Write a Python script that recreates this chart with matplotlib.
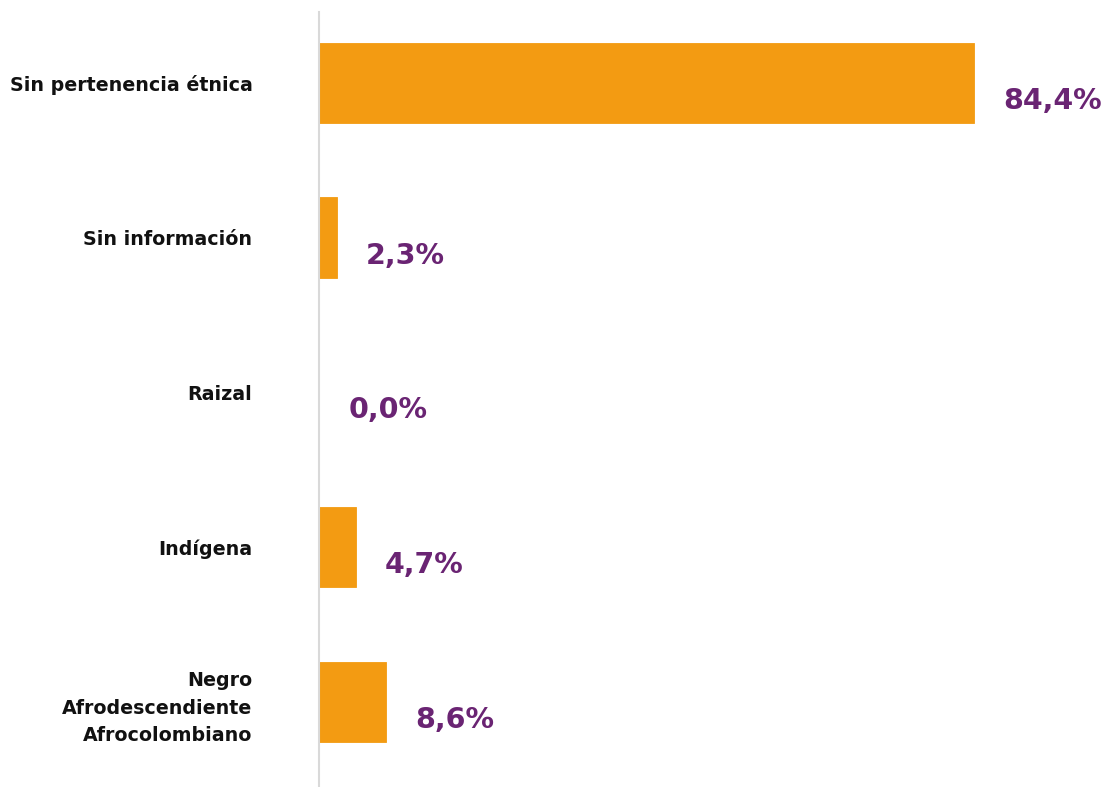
import matplotlib
matplotlib.use("Agg")
import matplotlib.pyplot as plt

# categories bottom -> top
categories = ["Negro\nAfrodescendiente\nAfrocolombiano", "Indígena", "Raizal",
              "Sin información", "Sin pertenencia étnica"]
values = [8.6, 4.7, 0.0, 2.3, 84.4]
value_labels = ["8,6%", "4,7%", "0,0%", "2,3%", "84,4%"]

bar_color = "#F39B12"
label_color = "#6A2473"

plt.rcParams['font.family'] = ['DejaVu Sans']

fig = plt.figure(figsize=(11.04, 7.87), dpi=100)
ax = fig.add_axes([0.289, 0.0, 0.711, 0.985])

pos = list(range(len(categories)))
ax.barh(pos, values, height=0.52, color=bar_color, edgecolor=bar_color, linewidth=0.6)

for p, v, lab in zip(pos, values, value_labels):
    ax.annotate(lab, xy=(v, p), xytext=(21, -13), textcoords="offset points",
                ha="left", va="center", fontsize=20.5, fontweight="bold",
                color=label_color)

ax.set_xlim(0, 101.2)
ax.set_ylim(-0.55, 4.46)
ax.set_yticks(pos)
ax.set_yticklabels(categories, fontsize=13.7, fontweight="bold", color="#111111",
                   linespacing=1.55)
ax.tick_params(axis="y", length=0, pad=48)
ax.set_xticks([])

for s in ["top", "right", "bottom"]:
    ax.spines[s].set_visible(False)
ax.spines["left"].set_color("#d9d9d9")
ax.spines["left"].set_linewidth(1.5)

fig.savefig("out.png", dpi=100)
